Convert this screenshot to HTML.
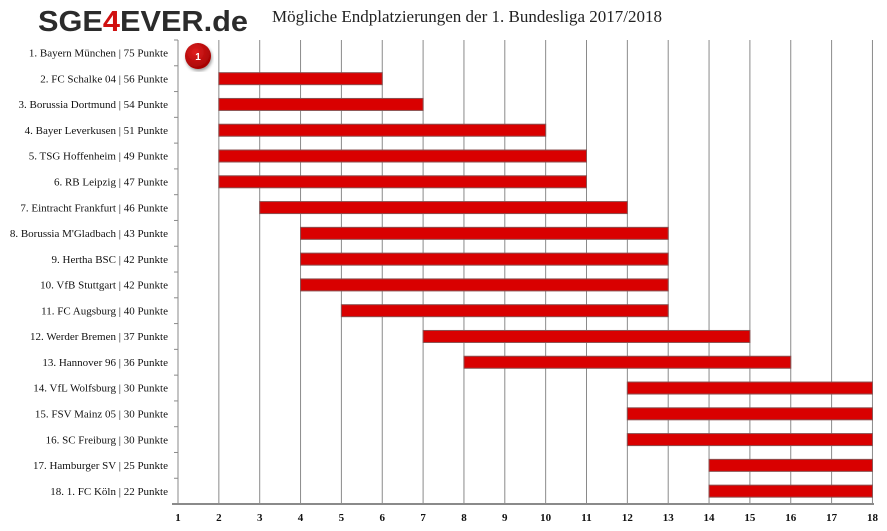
<!DOCTYPE html>
<html><head><meta charset="utf-8"><style>
body{margin:0;background:#fff;}
svg{display:block}
</style></head><body>
<svg width="887" height="531" xmlns="http://www.w3.org/2000/svg">
<defs><radialGradient id="rg" cx="40%" cy="35%" r="70%"><stop offset="0" stop-color="#e02020"/><stop offset="1" stop-color="#a00000"/></radialGradient>
<filter id="sh"><feDropShadow dx="1" dy="2" stdDeviation="1.5" flood-opacity="0.4"/></filter></defs>
<text x="38" y="31" font-family="Liberation Sans, sans-serif" font-weight="bold" font-size="29" fill="#2b2b2b" textLength="210" lengthAdjust="spacingAndGlyphs">SGE<tspan fill="#d01010">4</tspan>EVER.de</text>
<text x="272" y="22" font-family="Liberation Serif, serif" font-size="17" fill="#222">Mögliche Endplatzierungen der 1. Bundesliga 2017/2018</text>
<g stroke="#8a8a8a" stroke-width="1">
<line x1="178" x2="178" y1="40" y2="504"/><line x1="218.85" x2="218.85" y1="40" y2="504"/><line x1="259.7" x2="259.7" y1="40" y2="504"/><line x1="300.55" x2="300.55" y1="40" y2="504"/><line x1="341.4" x2="341.4" y1="40" y2="504"/><line x1="382.25" x2="382.25" y1="40" y2="504"/><line x1="423.1" x2="423.1" y1="40" y2="504"/><line x1="463.95" x2="463.95" y1="40" y2="504"/><line x1="504.8" x2="504.8" y1="40" y2="504"/><line x1="545.65" x2="545.65" y1="40" y2="504"/><line x1="586.5" x2="586.5" y1="40" y2="504"/><line x1="627.35" x2="627.35" y1="40" y2="504"/><line x1="668.2" x2="668.2" y1="40" y2="504"/><line x1="709.05" x2="709.05" y1="40" y2="504"/><line x1="749.9" x2="749.9" y1="40" y2="504"/><line x1="790.75" x2="790.75" y1="40" y2="504"/><line x1="831.6" x2="831.6" y1="40" y2="504"/><line x1="872.45" x2="872.45" y1="40" y2="504"/>
<line x1="172" x2="874" y1="504" y2="504" stroke-width="2"/>
<line x1="174" x2="178" y1="40" y2="40"/><line x1="174" x2="178" y1="65.78" y2="65.78"/><line x1="174" x2="178" y1="91.56" y2="91.56"/><line x1="174" x2="178" y1="117.34" y2="117.34"/><line x1="174" x2="178" y1="143.12" y2="143.12"/><line x1="174" x2="178" y1="168.9" y2="168.9"/><line x1="174" x2="178" y1="194.68" y2="194.68"/><line x1="174" x2="178" y1="220.46" y2="220.46"/><line x1="174" x2="178" y1="246.24" y2="246.24"/><line x1="174" x2="178" y1="272.02" y2="272.02"/><line x1="174" x2="178" y1="297.8" y2="297.8"/><line x1="174" x2="178" y1="323.58" y2="323.58"/><line x1="174" x2="178" y1="349.36" y2="349.36"/><line x1="174" x2="178" y1="375.14" y2="375.14"/><line x1="174" x2="178" y1="400.92" y2="400.92"/><line x1="174" x2="178" y1="426.7" y2="426.7"/><line x1="174" x2="178" y1="452.48" y2="452.48"/><line x1="174" x2="178" y1="478.26" y2="478.26"/>
</g>
<g fill="#d90000" stroke="#8a5050" stroke-width="1">
<rect x="218.85" y="72.67" width="163.4" height="12"/>
<rect x="218.85" y="98.45" width="204.25" height="12"/>
<rect x="218.85" y="124.23" width="326.8" height="12"/>
<rect x="218.85" y="150.01" width="367.65" height="12"/>
<rect x="218.85" y="175.79" width="367.65" height="12"/>
<rect x="259.7" y="201.57" width="367.65" height="12"/>
<rect x="300.55" y="227.35" width="367.65" height="12"/>
<rect x="300.55" y="253.13" width="367.65" height="12"/>
<rect x="300.55" y="278.91" width="367.65" height="12"/>
<rect x="341.4" y="304.69" width="326.8" height="12"/>
<rect x="423.1" y="330.47" width="326.8" height="12"/>
<rect x="463.95" y="356.25" width="326.8" height="12"/>
<rect x="627.35" y="382.03" width="245.1" height="12"/>
<rect x="627.35" y="407.81" width="245.1" height="12"/>
<rect x="627.35" y="433.59" width="245.1" height="12"/>
<rect x="709.05" y="459.37" width="163.4" height="12"/>
<rect x="709.05" y="485.15" width="163.4" height="12"/>
</g>
<g font-family="Liberation Serif, serif" font-size="11" fill="#111" text-anchor="end">
<text x="168" y="56.6">1. Bayern München | 75 Punkte</text>
<text x="168" y="82.4">2. FC Schalke 04 | 56 Punkte</text>
<text x="168" y="108.2">3. Borussia Dortmund | 54 Punkte</text>
<text x="168" y="133.9">4. Bayer Leverkusen | 51 Punkte</text>
<text x="168" y="159.7">5. TSG Hoffenheim | 49 Punkte</text>
<text x="168" y="185.5">6. RB Leipzig | 47 Punkte</text>
<text x="168" y="211.3">7. Eintracht Frankfurt | 46 Punkte</text>
<text x="168" y="237.1">8. Borussia M'Gladbach | 43 Punkte</text>
<text x="168" y="262.8">9. Hertha BSC | 42 Punkte</text>
<text x="168" y="288.6">10. VfB Stuttgart | 42 Punkte</text>
<text x="168" y="314.4">11. FC Augsburg | 40 Punkte</text>
<text x="168" y="340.2">12. Werder Bremen | 37 Punkte</text>
<text x="168" y="366">13. Hannover 96 | 36 Punkte</text>
<text x="168" y="391.7">14. VfL Wolfsburg | 30 Punkte</text>
<text x="168" y="417.5">15. FSV Mainz 05 | 30 Punkte</text>
<text x="168" y="443.3">16. SC Freiburg | 30 Punkte</text>
<text x="168" y="469.1">17. Hamburger SV | 25 Punkte</text>
<text x="168" y="494.9">18. 1. FC Köln | 22 Punkte</text>
</g>
<g font-family="Liberation Serif, serif" font-size="11" font-weight="bold" fill="#111" text-anchor="middle">
<text x="178" y="521">1</text><text x="218.85" y="521">2</text><text x="259.7" y="521">3</text><text x="300.55" y="521">4</text><text x="341.4" y="521">5</text><text x="382.25" y="521">6</text><text x="423.1" y="521">7</text><text x="463.95" y="521">8</text><text x="504.8" y="521">9</text><text x="545.65" y="521">10</text><text x="586.5" y="521">11</text><text x="627.35" y="521">12</text><text x="668.2" y="521">13</text><text x="709.05" y="521">14</text><text x="749.9" y="521">15</text><text x="790.75" y="521">16</text><text x="831.6" y="521">17</text><text x="872.45" y="521">18</text>
</g>
<circle cx="198" cy="56" r="13" fill="url(#rg)" filter="url(#sh)"/>
<text x="198" y="60" font-family="Liberation Sans, sans-serif" font-size="10" font-weight="bold" fill="#fff" text-anchor="middle">1</text>
</svg>
</body></html>
